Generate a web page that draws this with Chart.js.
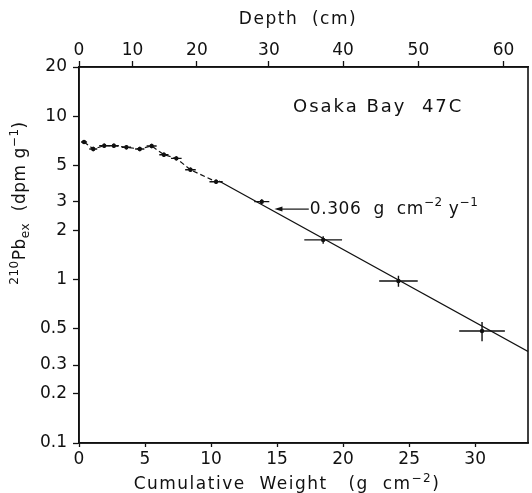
<!DOCTYPE html>
<html>
<head>
<meta charset="utf-8">
<script src="https://cdn.jsdelivr.net/npm/chart.js@4.4.1/dist/chart.umd.min.js"></script>
<style>
  html, body { margin: 0; padding: 0; background: #fff; }
  #wrap { width: 532px; height: 493px; position: relative; }
</style>
</head>
<body>
<div id="wrap"><canvas id="chart"></canvas></div>
<script>
// Cumulative weight (g cm-2) and excess 210Pb (dpm g-1)
const weight      = [0.38, 1.08, 1.91, 2.64, 3.59, 4.60, 5.50, 6.43, 7.37, 8.44, 10.38, 13.84, 18.49, 24.19, 30.52];
const activity    = [6.95, 6.30, 6.60, 6.60, 6.45, 6.30, 6.57, 5.81, 5.52, 4.70, 3.97, 3.00, 1.75, 0.98, 0.485];
const weightErr   = [0.23, 0.30, 0.38, 0.38, 0.35, 0.35, 0.38, 0.35, 0.40, 0.40, 0.50, 0.57, 1.43, 1.46, 1.73];
const activityErr = [0.20, 0.20, 0.20, 0.20, 0.20, 0.20, 0.20, 0.18, 0.17, 0.15, 0.13, 0.10, 0.09, 0.077, 0.066];

// fitted sedimentation line (0.306 g cm-2 y-1)
const fitWeight   = [10.6, 34];
const fitActivity = [4.01, 0.363];

// axis ticks
const weightTicks   = [0, 5, 10, 15, 20, 25, 30];
const activityTicks = [0.1, 0.2, 0.3, 0.5, 1, 2, 3, 5, 10, 20];
const depthLabels   = [0, 10, 20, 30, 40, 50, 60];
const depthAtWeight = [0, 4.05, 8.93, 14.38, 20.0, 25.7, 32.15];

const FONT = '"DejaVu Sans", sans-serif';
const INK = '#111';

const toXY = (xs, ys) => xs.map((x, i) => ({ x: x, y: ys[i] }));

// write a run of text pieces, some raised or lowered
function richText(ctx, parts, x, y, align) {
    let total = 0;
    parts.forEach(p => {
        ctx.font = (p.size || 17) + 'px ' + FONT;
        p.w = ctx.measureText(p.t).width;
        total += p.w;
    });
    let cx = align === 'center' ? x - total / 2 : x;
    parts.forEach(p => {
        ctx.font = (p.size || 17) + 'px ' + FONT;
        ctx.fillText(p.t, cx, y + (p.dy || 0));
        cx += p.w;
    });
}

// keep the plot frame fixed, no extra room for edge labels
function noEdgePadding(scale) {
    scale.paddingLeft = 0;
    scale.paddingRight = 0;
    scale.paddingTop = 0;
    scale.paddingBottom = 0;
}

const errorBars = {
    id: 'errorBars',
    afterDatasetsDraw(chart) {
        const ctx = chart.ctx;
        const xs = chart.scales.x, ys = chart.scales.y;
        const area = chart.chartArea;
        ctx.save();
        ctx.beginPath();
        ctx.rect(area.left, area.top, area.right - area.left, area.bottom - area.top);
        ctx.clip();
        ctx.strokeStyle = INK;
        ctx.lineWidth = 1.4;
        weight.forEach((w, i) => {
            const px = xs.getPixelForValue(w), py = ys.getPixelForValue(activity[i]);
            ctx.beginPath();
            ctx.moveTo(xs.getPixelForValue(w - weightErr[i]), py);
            ctx.lineTo(xs.getPixelForValue(w + weightErr[i]), py);
            ctx.moveTo(px, ys.getPixelForValue(activity[i] - activityErr[i]));
            ctx.lineTo(px, ys.getPixelForValue(activity[i] + activityErr[i]));
            ctx.stroke();
        });
        ctx.restore();
    }
};

const labels = {
    id: 'labels',
    afterDraw(chart) {
        const ctx = chart.ctx;
        const a = chart.chartArea;
        const xs = chart.scales.x, ys = chart.scales.y;
        ctx.save();
        ctx.fillStyle = INK;
        ctx.strokeStyle = INK;

        // frame
        ctx.lineWidth = 1.6;
        ctx.strokeRect(a.left, a.top, a.right - a.left, a.bottom - a.top);

        ctx.textBaseline = 'middle';
        ctx.letterSpacing = '1.5px';

        // axis titles
        richText(ctx, [{ t: 'Depth  (cm)' }], 298, 20, 'center');
        richText(ctx, [
            { t: 'Cumulative  Weight   (g  cm' },
            { t: '\u22122', size: 12, dy: -6 },
            { t: ')' }
        ], 287, 485, 'center');

        ctx.save();
        ctx.translate(21, 203);
        ctx.rotate(-Math.PI / 2);
        ctx.letterSpacing = '0.5px';
        richText(ctx, [
            { t: '210', size: 12, dy: -6 },
            { t: 'Pb' },
            { t: 'ex', size: 12, dy: 5 },
            { t: '  (dpm g' },
            { t: '\u22121', size: 12, dy: -6 },
            { t: ')' }
        ], 0, 0, 'center');
        ctx.restore();

        // sample name
        ctx.letterSpacing = '2px';
        richText(ctx, [{ t: 'Osaka Bay  47C', size: 18 }], 293, 107, 'left');

        // rate annotation with arrow
        const tipX = xs.getPixelForValue(14.8), tipY = ys.getPixelForValue(2.7);
        const tailX = xs.getPixelForValue(17.4);
        ctx.lineWidth = 1.2;
        ctx.beginPath();
        ctx.moveTo(tailX, tipY);
        ctx.lineTo(tipX + 6, tipY);
        ctx.stroke();
        ctx.beginPath();
        ctx.moveTo(tipX, tipY);
        ctx.lineTo(tipX + 8, tipY - 2.5);
        ctx.lineTo(tipX + 8, tipY + 2.5);
        ctx.closePath();
        ctx.fill();
        ctx.letterSpacing = '0.6px';
        richText(ctx, [
            { t: '0.306  g  cm' },
            { t: '\u22122', size: 12, dy: -6 },
            { t: ' y' },
            { t: '\u22121', size: 12, dy: -6 }
        ], tailX + 1, tipY, 'left');
        ctx.restore();
    }
};

const tickFont = { family: FONT, size: 17 };

new Chart(document.getElementById('chart'), {
    type: 'scatter',
    data: {
        datasets: [
            {
                label: 'profile',
                data: toXY(weight.slice(0, 11), activity.slice(0, 11)),
                showLine: true,
                borderColor: INK,
                borderWidth: 1.2,
                borderDash: [5, 3],
                pointRadius: 0
            },
            {
                label: 'fit',
                data: toXY(fitWeight, fitActivity),
                showLine: true,
                borderColor: INK,
                borderWidth: 1.3,
                pointRadius: 0
            },
            {
                label: '210Pb',
                data: toXY(weight, activity),
                showLine: false,
                pointRadius: 2.2,
                pointBackgroundColor: INK,
                pointBorderColor: INK,
                pointBorderWidth: 0
            }
        ]
    },
    options: {
        responsive: true,
        maintainAspectRatio: false,
        animation: false,
        layout: { padding: { left: 0, right: 1, top: 0, bottom: 0 } },
        plugins: {
            legend: { display: false },
            tooltip: { enabled: false }
        },
        scales: {
            x: {
                type: 'linear',
                position: 'bottom',
                min: 0,
                max: 34,
                afterBuildTicks: scale => { scale.ticks = weightTicks.map(v => ({ value: v })); },
                afterFit: scale => { scale.height = 50; noEdgePadding(scale); },
                ticks: { font: tickFont, color: INK, padding: 2, maxRotation: 0 },
                grid: { drawOnChartArea: false, tickLength: 4, color: INK, tickWidth: 1.3 },
                border: { color: INK, width: 1.6 }
            },
            x2: {
                type: 'linear',
                position: 'top',
                min: 0,
                max: 34,
                afterBuildTicks: scale => { scale.ticks = depthAtWeight.map(v => ({ value: v })); },
                afterFit: scale => { scale.height = 67; noEdgePadding(scale); },
                ticks: {
                    font: tickFont,
                    color: INK,
                    padding: 0,
                    maxRotation: 0,
                    callback: (value, index) => depthLabels[index]
                },
                grid: { drawOnChartArea: false, tickLength: 6, color: INK, tickWidth: 1.3 },
                border: { color: INK, width: 1.6 }
            },
            y: {
                type: 'logarithmic',
                min: 0.1,
                max: 20,
                afterBuildTicks: scale => { scale.ticks = activityTicks.map(v => ({ value: v })); },
                afterFit: scale => { scale.width = 79; noEdgePadding(scale); },
                ticks: {
                    font: tickFont,
                    color: INK,
                    padding: 6,
                    callback: value => String(value)
                },
                grid: { drawOnChartArea: false, tickLength: 6, color: INK, tickWidth: 1.3 },
                border: { color: INK, width: 1.6 }
            }
        }
    },
    plugins: [errorBars, labels]
});
</script>
</body>
</html>
